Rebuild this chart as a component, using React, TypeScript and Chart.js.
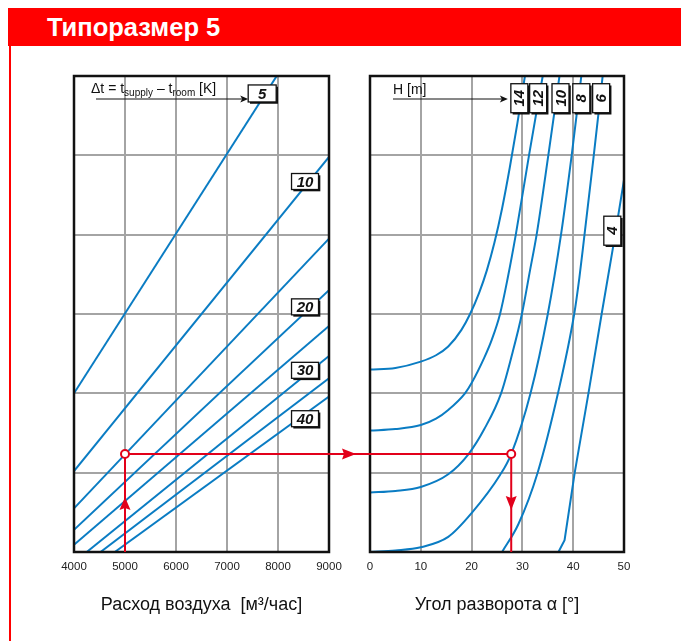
import React, { useEffect, useRef } from 'react';
import { Chart, registerables } from 'chart.js';

Chart.register(...registerables);

// ---------- data ----------
const TITLE = 'Типоразмер 5';
const FLOW_TITLE = 'Расход воздуха  [м³/час]';
const ANGLE_TITLE = 'Угол разворота α [°]';

const FLOW_TICKS = [4000, 5000, 6000, 7000, 8000, 9000];
const ANGLE_TICKS = [0, 10, 20, 30, 40, 50];
const LEVEL_TICKS = [0, 1, 2, 3, 4, 5, 6];

// left nomogram: Δt lines  [flow m³/h, level]
const DT_5 = [[4000, 2.0], [7975, 6.0]];
const DT_10 = [[4000, 1.02], [9000, 4.98]];
const DT_15 = [[4000, 0.55], [9000, 3.95]];
const DT_20 = [[4000, 0.28], [9000, 3.3]];
const DT_25 = [[4000, 0.09], [9000, 2.85]];
const DT_30 = [[4250, 0], [9000, 2.47]];
const DT_35 = [[4520, 0], [9000, 2.19]];
const DT_40 = [[4800, 0], [9000, 1.96]];
const DT_LINES = [DT_5, DT_10, DT_15, DT_20, DT_25, DT_30, DT_35, DT_40];

const DT_LABELS = ['5', '10', '20', '30', '40'];
const DT_LABEL_FLOW = [7690, 8530, 8530, 8530, 8530];
const DT_LABEL_LEVEL = [5.78, 4.67, 3.09, 2.29, 1.68];

// right nomogram: H curves  [angle °, level]
const H_14 = [[0, 2.3], [5, 2.32], [10, 2.4], [13, 2.48], [15.4, 2.59], [18, 2.8], [19.7, 3.0], [21.5, 3.27], [23.0, 3.55], [24.5, 3.9], [26.0, 4.33], [27.5, 4.84], [29.0, 5.4], [30.5, 6.0]];
const H_12 = [[0, 1.53], [5, 1.55], [10, 1.6], [13, 1.68], [15.4, 1.79], [18.7, 2.0], [20, 2.13], [22.5, 2.45], [24.0, 2.68], [25.6, 3.0], [27.1, 3.45], [28.7, 4.0], [31.3, 5.0], [34.0, 6.0]];
const H_10 = [[0, 0.75], [5, 0.77], [10, 0.82], [15.4, 0.98], [19.4, 1.235], [22.5, 1.55], [25.8, 2.0], [28.0, 2.5], [29.9, 3.0], [31.5, 3.55], [32.8, 4.0], [35.1, 5.0], [37.3, 6.0]];
const H_8 = [[0, 0], [5, 0.02], [10, 0.06], [15.4, 0.19], [20, 0.49], [25.6, 0.97], [27.8, 1.235], [31.6, 2.0], [35.0, 3.0], [37.6, 4.0], [39.7, 5.0], [41.6, 6.0]];
const H_6 = [[26.0, 0], [29.2, 0.35], [33.0, 1.0], [37.0, 2.0], [40.2, 3.0], [41.2, 3.45], [42.1, 3.93], [44.0, 4.97], [45.8, 6.0]];
const H_4 = [[37.1, 0], [38.3, 0.15], [40.3, 1.0], [43.0, 2.0], [45.6, 3.0], [48.0, 3.9], [50, 4.69]];
const H_CURVES = [H_14, H_12, H_10, H_8, H_6];

const H_LABELS = ['14', '12', '10', '8', '6', '4'];
const H_LABEL_ANGLE = [29.4, 33.1, 37.5, 41.6, 45.5, 47.7];
const H_LABEL_LEVEL = [5.72, 5.72, 5.72, 5.72, 5.72, 4.05];

// worked example
const EXAMPLE_FLOW = 5000;
const EXAMPLE_LEVEL = 1.235;
const EXAMPLE_ANGLE = 27.8;

// ---------- styles ----------
const FONT = '"Liberation Sans", Arial, sans-serif';
const BLUE = '#0a7cc3';
const GRID = '#a4a4a4';
const RED = '#e2001a';
const INK = '#111';

const toPts = (arr: number[][]) => arr.map(([x, y]) => ({ x, y }));

function drawBox(ctx: CanvasRenderingContext2D, cx: number, cy: number, w: number, h: number, text: string, rotate: boolean) {
  ctx.save();
  ctx.translate(cx, cy);
  ctx.fillStyle = INK;
  ctx.fillRect(-w / 2 + 1.8, -h / 2 + 1.8, w, h);
  ctx.fillStyle = '#fff';
  ctx.fillRect(-w / 2, -h / 2, w, h);
  ctx.strokeStyle = INK;
  ctx.lineWidth = 1.3;
  ctx.strokeRect(-w / 2, -h / 2, w, h);
  if (rotate) ctx.rotate(-Math.PI / 2);
  ctx.fillStyle = INK;
  ctx.font = `italic bold 15px ${FONT}`;
  ctx.textAlign = 'center';
  ctx.textBaseline = 'middle';
  ctx.fillText(text, 0, 1);
  ctx.restore();
}

function arrowHead(ctx: CanvasRenderingContext2D, tx: number, ty: number, dir: 'up' | 'down' | 'right', len: number, half: number, color: string) {
  ctx.save();
  ctx.fillStyle = color;
  ctx.beginPath();
  if (dir === 'up') {
    ctx.moveTo(tx, ty); ctx.lineTo(tx - half, ty + len); ctx.lineTo(tx, ty + len - 2); ctx.lineTo(tx + half, ty + len);
  } else if (dir === 'down') {
    ctx.moveTo(tx, ty); ctx.lineTo(tx - half, ty - len); ctx.lineTo(tx, ty - len + 2); ctx.lineTo(tx + half, ty - len);
  } else {
    ctx.moveTo(tx, ty); ctx.lineTo(tx - len, ty - half); ctx.lineTo(tx - len + 2, ty); ctx.lineTo(tx - len, ty + half);
  }
  ctx.closePath();
  ctx.fill();
  ctx.restore();
}

function frame(ctx: CanvasRenderingContext2D, a: any) {
  ctx.save();
  ctx.strokeStyle = INK;
  ctx.lineWidth = 2.5;
  ctx.strokeRect(a.left, a.top, a.right - a.left, a.bottom - a.top);
  ctx.restore();
}

const leftPlugin = {
  id: 'leftDecor',
  afterDatasetsDraw(chart: any) {
    const { ctx, chartArea: a, scales } = chart;
    const x = scales.x, y = scales.y;
    frame(ctx, a);
    // Δt heading
    ctx.save();
    ctx.fillStyle = INK;
    ctx.textBaseline = 'alphabetic';
    let tx = a.left + 17;
    const base = a.top + 17;
    const parts: [string, number, number][] = [['Δt = t', 14, 0], ['supply', 10, 3], [' – t', 14, 0], ['room', 10, 3], [' [K]', 14, 0]];
    for (const [s, size, dy] of parts) {
      ctx.font = `${size}px ${FONT}`;
      ctx.fillText(s, tx, base + dy);
      tx += ctx.measureText(s).width;
    }
    ctx.restore();
    // label boxes
    const boxX0 = x.getPixelForValue(DT_LABEL_FLOW[0]);
    const ay = a.top + 23;
    ctx.save();
    ctx.strokeStyle = INK;
    ctx.lineWidth = 1;
    ctx.beginPath();
    ctx.moveTo(a.left + 22, ay);
    ctx.lineTo(boxX0 - 20, ay);
    ctx.stroke();
    ctx.restore();
    arrowHead(ctx, boxX0 - 14, ay, 'right', 8, 3.5, INK);
    DT_LABELS.forEach((t, i) => {
      const w = i === 0 ? 28 : 27;
      const h = i === 0 ? 17 : 16;
      drawBox(ctx, x.getPixelForValue(DT_LABEL_FLOW[i]), y.getPixelForValue(DT_LABEL_LEVEL[i]), w, h, t, false);
    });
    // red example path
    const px = x.getPixelForValue(EXAMPLE_FLOW);
    const py = y.getPixelForValue(EXAMPLE_LEVEL);
    const R = 4;
    ctx.save();
    ctx.strokeStyle = RED;
    ctx.lineWidth = 2;
    ctx.beginPath();
    ctx.moveTo(px, a.bottom);
    ctx.lineTo(px, py + R);
    ctx.moveTo(px + R, py);
    ctx.lineTo(chart.width, py);
    ctx.stroke();
    ctx.beginPath();
    ctx.arc(px, py, R, 0, Math.PI * 2);
    ctx.fillStyle = '#fff';
    ctx.fill();
    ctx.stroke();
    ctx.restore();
    arrowHead(ctx, px, (a.bottom + py) / 2 - 6, 'up', 13, 5.5, RED);
    arrowHead(ctx, a.right + 27, py, 'right', 14, 5.5, RED);
  },
};

const rightPlugin = {
  id: 'rightDecor',
  afterDatasetsDraw(chart: any) {
    const { ctx, chartArea: a, scales } = chart;
    const x = scales.x, y = scales.y;
    frame(ctx, a);
    ctx.save();
    ctx.fillStyle = INK;
    ctx.font = `14px ${FONT}`;
    ctx.textBaseline = 'alphabetic';
    ctx.fillText('H [m]', a.left + 23, a.top + 18);
    ctx.restore();
    const bx = x.getPixelForValue(H_LABEL_ANGLE[0]) - 8.5;
    const ay = a.top + 23;
    ctx.save();
    ctx.strokeStyle = INK;
    ctx.lineWidth = 1;
    ctx.beginPath();
    ctx.moveTo(a.left + 23, ay);
    ctx.lineTo(bx - 8, ay);
    ctx.stroke();
    ctx.restore();
    arrowHead(ctx, bx - 3, ay, 'right', 8, 3.5, INK);
    H_LABELS.forEach((t, i) => {
      drawBox(ctx, x.getPixelForValue(H_LABEL_ANGLE[i]), y.getPixelForValue(H_LABEL_LEVEL[i]), 17, 29, t, true);
    });
    const px = x.getPixelForValue(EXAMPLE_ANGLE);
    const py = y.getPixelForValue(EXAMPLE_LEVEL);
    const R = 4;
    ctx.save();
    ctx.strokeStyle = RED;
    ctx.lineWidth = 2;
    ctx.beginPath();
    ctx.moveTo(0, py);
    ctx.lineTo(px - R, py);
    ctx.moveTo(px, py + R);
    ctx.lineTo(px, a.bottom);
    ctx.stroke();
    ctx.beginPath();
    ctx.arc(px, py, R, 0, Math.PI * 2);
    ctx.fillStyle = '#fff';
    ctx.fill();
    ctx.stroke();
    ctx.restore();
    arrowHead(ctx, px, (a.bottom + py) / 2 + 7, 'down', 14, 5.5, RED);
  },
};

function makeOptions(min: number, max: number, ticks: number[], title: string, pad: any) {
  return {
    animation: false,
    responsive: false,
    events: [],
    layout: { padding: pad },
    plugins: { legend: { display: false }, tooltip: { enabled: false } },
    scales: {
      x: {
        type: 'linear',
        min,
        max,
        afterBuildTicks: (s: any) => { s.ticks = ticks.map((v) => ({ value: v })); },
        ticks: { autoSkip: false, maxRotation: 0, padding: 8, color: '#222', font: { family: FONT, size: 11.5 }, callback: (v: any) => String(v) },
        grid: { color: GRID, lineWidth: 2, drawTicks: false },
        border: { display: false },
        title: { display: true, text: title, color: INK, font: { family: FONT, size: 18 }, padding: { top: 0, bottom: 0 } },
        afterFit: (s: any) => { s.height = 64; },
      },
      y: {
        type: 'linear',
        min: LEVEL_TICKS[0],
        max: LEVEL_TICKS[LEVEL_TICKS.length - 1],
        afterBuildTicks: (s: any) => { s.ticks = LEVEL_TICKS.map((v) => ({ value: v })); },
        ticks: { display: false },
        grid: { color: GRID, lineWidth: 2, drawTicks: false },
        border: { display: false },
        afterFit: (s: any) => { s.width = 0; },
      },
    },
  };
}

function LeftChart() {
  const ref = useRef<HTMLCanvasElement>(null);
  useEffect(() => {
    const chart = new Chart(ref.current as HTMLCanvasElement, {
      type: 'line',
      data: {
        datasets: DT_LINES.map((l) => ({
          data: toPts(l),
          borderColor: BLUE,
          borderWidth: 2,
          pointRadius: 0,
          tension: 0,
          fill: false,
        })),
      },
      options: makeOptions(FLOW_TICKS[0], FLOW_TICKS[FLOW_TICKS.length - 1], FLOW_TICKS, FLOW_TITLE, { left: 30, right: 31, top: 16, bottom: 10 }) as any,
      plugins: [leftPlugin],
    });
    return () => chart.destroy();
  }, []);
  return <canvas ref={ref} width={316} height={566} style={{ position: 'absolute', left: 44, top: 60 }} />;
}

function RightChart() {
  const ref = useRef<HTMLCanvasElement>(null);
  useEffect(() => {
    const sets: any[] = H_CURVES.map((l) => ({
      data: toPts(l),
      borderColor: BLUE,
      borderWidth: 2,
      pointRadius: 0,
      cubicInterpolationMode: 'monotone',
      fill: false,
    }));
    sets.push({ data: toPts(H_4), borderColor: BLUE, borderWidth: 2, pointRadius: 0, tension: 0, fill: false });
    const chart = new Chart(ref.current as HTMLCanvasElement, {
      type: 'line',
      data: { datasets: sets },
      options: makeOptions(ANGLE_TICKS[0], ANGLE_TICKS[ANGLE_TICKS.length - 1], ANGLE_TICKS, ANGLE_TITLE, { left: 25, right: 21, top: 16, bottom: 10 }) as any,
      plugins: [rightPlugin],
    });
    return () => chart.destroy();
  }, []);
  return <canvas ref={ref} width={300} height={566} style={{ position: 'absolute', left: 345, top: 60 }} />;
}

export default function App() {
  return (
    <div style={{ position: 'absolute', left: 0, top: 0, width: 681, height: 641, background: '#fff', overflow: 'hidden' }}>
      <div
        style={{
          position: 'absolute', left: 8, top: 8, width: 673, height: 38, background: '#ff0000',
          color: '#fff', fontFamily: FONT, fontWeight: 'bold', fontSize: 25.5, lineHeight: '38px', boxSizing: 'border-box', paddingLeft: 39,
        }}
      >
        {TITLE}
      </div>
      <div style={{ position: 'absolute', left: 9, top: 46, width: 2, height: 595, background: '#ff0000' }} />
      <LeftChart />
      <RightChart />
    </div>
  );
}
